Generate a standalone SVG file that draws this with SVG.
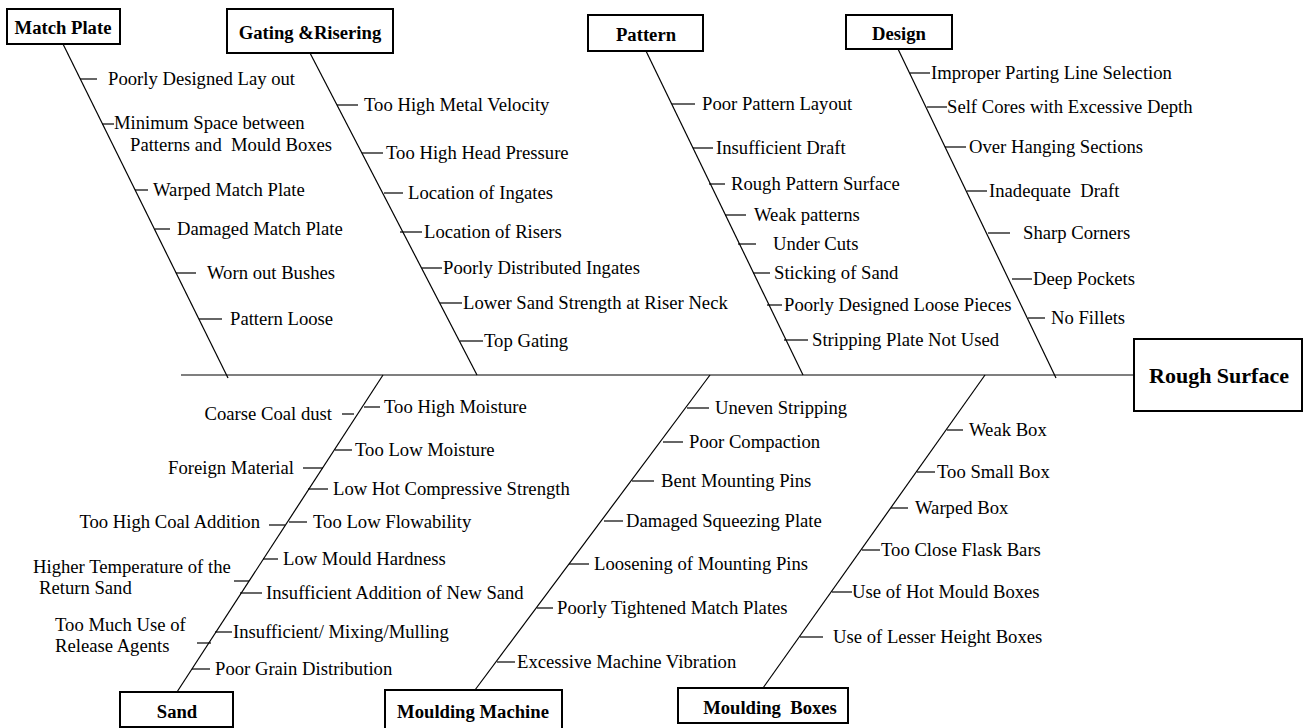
<svg xmlns="http://www.w3.org/2000/svg" width="1304" height="728" viewBox="0 0 1304 728" font-family="Liberation Serif, Times New Roman, serif">
<style>
  .bg{fill:#fff}
  .box{fill:#fff;stroke:#000;stroke-width:2}
  .ln{stroke:#000;stroke-width:1.2;fill:none}
  .tk{stroke:#000;stroke-width:1.2}
  .t{font-size:18.67px;fill:#000}
  .h{font-size:18.67px;font-weight:bold;fill:#000;text-anchor:middle}
  .e{text-anchor:end}
</style>
<rect class="bg" x="0" y="0" width="1304" height="728"/>
<g id="connectors">
  <line class="ln" x1="181" y1="375" x2="1133" y2="375"/>
  <line class="ln" x1="63" y1="44" x2="228" y2="378"/>
  <line class="ln" x1="310" y1="53" x2="477" y2="375"/>
  <line class="ln" x1="646" y1="51" x2="803" y2="375"/>
  <line class="ln" x1="898" y1="49" x2="1056" y2="378"/>
  <line class="ln" x1="383" y1="375" x2="177" y2="692"/>
  <line class="ln" x1="710" y1="375" x2="475" y2="690"/>
  <line class="ln" x1="985" y1="375" x2="763" y2="688"/>
  <line class="tk" x1="80" y1="79" x2="97" y2="79"/>
  <line class="tk" x1="102" y1="124" x2="114" y2="124"/>
  <line class="tk" x1="135" y1="190" x2="148" y2="190"/>
  <line class="tk" x1="155" y1="229" x2="170" y2="229"/>
  <line class="tk" x1="176" y1="273" x2="196" y2="273"/>
  <line class="tk" x1="199" y1="319" x2="222" y2="319"/>
  <line class="tk" x1="337" y1="105" x2="358" y2="105"/>
  <line class="tk" x1="362" y1="153" x2="383" y2="153"/>
  <line class="tk" x1="384" y1="193" x2="403" y2="193"/>
  <line class="tk" x1="400" y1="232" x2="422" y2="232"/>
  <line class="tk" x1="422" y1="268" x2="442" y2="268"/>
  <line class="tk" x1="440" y1="303" x2="462" y2="303"/>
  <line class="tk" x1="460" y1="341" x2="483" y2="341"/>
  <line class="tk" x1="672" y1="104" x2="695" y2="104"/>
  <line class="tk" x1="693" y1="148" x2="713" y2="148"/>
  <line class="tk" x1="709" y1="184" x2="725" y2="184"/>
  <line class="tk" x1="725" y1="215" x2="746" y2="215"/>
  <line class="tk" x1="738" y1="244" x2="756" y2="244"/>
  <line class="tk" x1="753" y1="273" x2="770" y2="273"/>
  <line class="tk" x1="767" y1="305" x2="782" y2="305"/>
  <line class="tk" x1="784" y1="340" x2="808" y2="340"/>
  <line class="tk" x1="910" y1="73" x2="930" y2="73"/>
  <line class="tk" x1="927" y1="107" x2="947" y2="107"/>
  <line class="tk" x1="945" y1="147" x2="966" y2="147"/>
  <line class="tk" x1="967" y1="191" x2="987" y2="191"/>
  <line class="tk" x1="988" y1="233" x2="1010" y2="233"/>
  <line class="tk" x1="1012" y1="279" x2="1032" y2="279"/>
  <line class="tk" x1="1028" y1="318" x2="1045" y2="318"/>
  <line class="tk" x1="364" y1="407" x2="380" y2="407"/>
  <line class="tk" x1="335" y1="450" x2="352" y2="450"/>
  <line class="tk" x1="308" y1="489" x2="328" y2="489"/>
  <line class="tk" x1="289" y1="522" x2="307" y2="522"/>
  <line class="tk" x1="263" y1="559" x2="278" y2="559"/>
  <line class="tk" x1="240" y1="593" x2="262" y2="593"/>
  <line class="tk" x1="215" y1="632" x2="232" y2="632"/>
  <line class="tk" x1="192" y1="669" x2="210" y2="669"/>
  <line class="tk" x1="342" y1="414" x2="354" y2="414"/>
  <line class="tk" x1="303" y1="468" x2="323" y2="468"/>
  <line class="tk" x1="269" y1="525" x2="285" y2="525"/>
  <line class="tk" x1="234" y1="581" x2="249" y2="581"/>
  <line class="tk" x1="197" y1="643" x2="211" y2="643"/>
  <line class="tk" x1="687" y1="408" x2="709" y2="408"/>
  <line class="tk" x1="663" y1="442" x2="683" y2="442"/>
  <line class="tk" x1="632" y1="481" x2="654" y2="481"/>
  <line class="tk" x1="604" y1="521" x2="623" y2="521"/>
  <line class="tk" x1="569" y1="564" x2="589" y2="564"/>
  <line class="tk" x1="537" y1="608" x2="553" y2="608"/>
  <line class="tk" x1="497" y1="662" x2="515" y2="662"/>
  <line class="tk" x1="947" y1="430" x2="963" y2="430"/>
  <line class="tk" x1="917" y1="472" x2="935" y2="472"/>
  <line class="tk" x1="891" y1="508" x2="908" y2="508"/>
  <line class="tk" x1="862" y1="550" x2="880" y2="550"/>
  <line class="tk" x1="832" y1="592" x2="852" y2="592"/>
  <line class="tk" x1="800" y1="637" x2="823" y2="637"/>
</g>
<g id="effect">
  <rect class="box" x="1134" y="339" width="168" height="72"/>
  <text class="h" x="1219" y="383" font-size="22" style="font-size:22px">Rough Surface</text>
</g>
<g id="match-plate">
  <rect class="box" x="7" y="9" width="113" height="35"/>
  <text class="h" x="63" y="34">Match Plate</text>
  <text class="t" x="108" y="85">Poorly Designed Lay out</text>
  <text class="t" x="114" y="129">Minimum Space between</text>
  <text class="t" x="130" y="151" xml:space="preserve">Patterns and  Mould Boxes</text>
  <text class="t" x="153" y="196">Warped Match Plate</text>
  <text class="t" x="177" y="235">Damaged Match Plate</text>
  <text class="t" x="207" y="279">Worn out Bushes</text>
  <text class="t" x="230" y="325">Pattern Loose</text>
</g>
<g id="gating-risering">
  <rect class="box" x="227" y="9" width="166" height="44"/>
  <text class="h" x="310" y="39">Gating &amp;Risering</text>
  <text class="t" x="364" y="111">Too High Metal Velocity</text>
  <text class="t" x="386" y="159">Too High Head Pressure</text>
  <text class="t" x="408" y="199">Location of Ingates</text>
  <text class="t" x="424" y="238">Location of Risers</text>
  <text class="t" x="443" y="274">Poorly Distributed Ingates</text>
  <text class="t" x="463" y="309">Lower Sand Strength at Riser Neck</text>
  <text class="t" x="484" y="347">Top Gating</text>
</g>
<g id="pattern">
  <rect class="box" x="588" y="15" width="115" height="36"/>
  <text class="h" x="646" y="41">Pattern</text>
  <text class="t" x="702" y="110">Poor Pattern Layout</text>
  <text class="t" x="716" y="154">Insufficient Draft</text>
  <text class="t" x="731" y="190">Rough Pattern Surface</text>
  <text class="t" x="754" y="221">Weak patterns</text>
  <text class="t" x="773" y="250">Under Cuts</text>
  <text class="t" x="774" y="279">Sticking of Sand</text>
  <text class="t" x="784" y="311">Poorly Designed Loose Pieces</text>
  <text class="t" x="812" y="346">Stripping Plate Not Used</text>
</g>
<g id="design">
  <rect class="box" x="846" y="15" width="106" height="34"/>
  <text class="h" x="899" y="40">Design</text>
  <text class="t" x="931" y="79">Improper Parting Line Selection</text>
  <text class="t" x="947" y="113">Self Cores with Excessive Depth</text>
  <text class="t" x="969" y="153">Over Hanging Sections</text>
  <text class="t" x="989" y="197" xml:space="preserve">Inadequate  Draft</text>
  <text class="t" x="1023" y="239">Sharp Corners</text>
  <text class="t" x="1033" y="285">Deep Pockets</text>
  <text class="t" x="1051" y="324">No Fillets</text>
</g>
<g id="sand">
  <rect class="box" x="120" y="692" width="113" height="35"/>
  <text class="h" x="177" y="718">Sand</text>
  <text class="t" x="384" y="413">Too High Moisture</text>
  <text class="t" x="355" y="456">Too Low Moisture</text>
  <text class="t" x="333" y="495">Low Hot Compressive Strength</text>
  <text class="t" x="313" y="528">Too Low Flowability</text>
  <text class="t" x="283" y="565">Low Mould Hardness</text>
  <text class="t" x="266" y="599">Insufficient Addition of New Sand</text>
  <text class="t" x="233" y="638">Insufficient/ Mixing/Mulling</text>
  <text class="t" x="215" y="675">Poor Grain Distribution</text>
  <text class="t e" x="332" y="420">Coarse Coal dust</text>
  <text class="t e" x="294" y="474">Foreign Material</text>
  <text class="t e" x="260" y="528">Too High Coal Addition</text>
  <text class="t" x="33" y="573">Higher Temperature of the</text>
  <text class="t" x="39" y="594">Return Sand</text>
  <text class="t" x="55" y="631">Too Much Use of</text>
  <text class="t" x="55" y="652">Release Agents</text>
</g>
<g id="moulding-machine">
  <rect class="box" x="385" y="690" width="177" height="40"/>
  <text class="h" x="473" y="718">Moulding Machine</text>
  <text class="t" x="715" y="414">Uneven Stripping</text>
  <text class="t" x="689" y="448">Poor Compaction</text>
  <text class="t" x="661" y="487">Bent Mounting Pins</text>
  <text class="t" x="626" y="527">Damaged Squeezing Plate</text>
  <text class="t" x="594" y="570">Loosening of Mounting Pins</text>
  <text class="t" x="557" y="614">Poorly Tightened Match Plates</text>
  <text class="t" x="517" y="668">Excessive Machine Vibration</text>
</g>
<g id="moulding-boxes">
  <rect class="box" x="678" y="688" width="170" height="35"/>
  <text class="h" x="770" y="714" xml:space="preserve">Moulding  Boxes</text>
  <text class="t" x="969" y="436">Weak Box</text>
  <text class="t" x="937" y="478">Too Small Box</text>
  <text class="t" x="915" y="514">Warped Box</text>
  <text class="t" x="881" y="556">Too Close Flask Bars</text>
  <text class="t" x="852" y="598">Use of Hot Mould Boxes</text>
  <text class="t" x="833" y="643">Use of Lesser Height Boxes</text>
</g>
</svg>
